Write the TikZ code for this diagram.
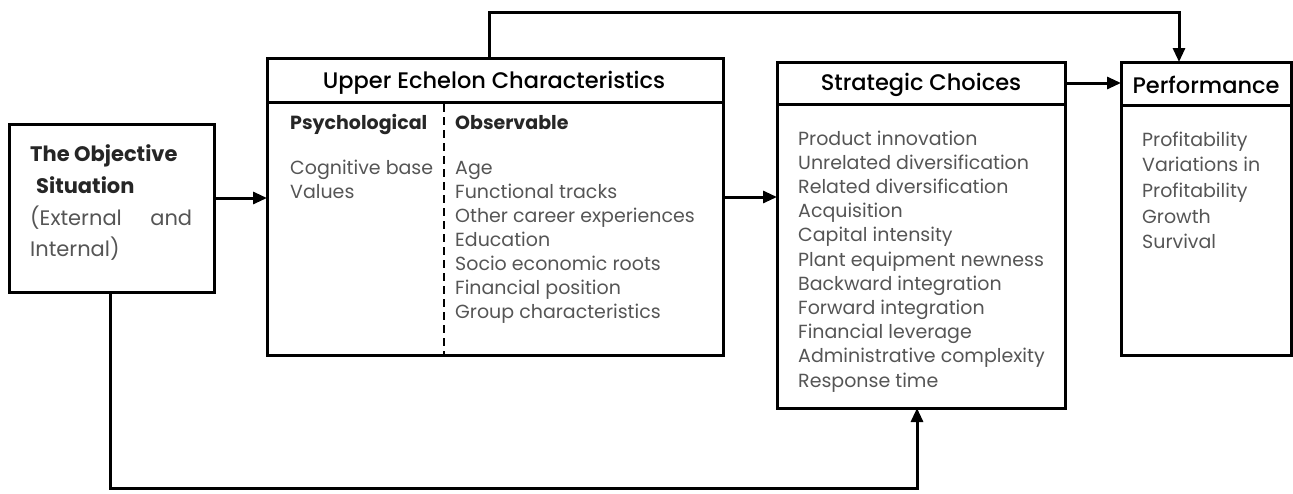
\documentclass[tikz,border=0pt]{standalone}
\usepackage{fontspec}
\setmainfont{Poppins}
\newfontfamily\medfont{Poppins Medium}
\usetikzlibrary{arrows.meta}
\definecolor{itemgray}{HTML}{555555}
\begin{document}
\begin{tikzpicture}[x=1pt,y=-1pt,
  box/.style={draw, line width=3pt, inner sep=0pt, outer sep=0pt},
  rule/.style={line width=3pt},
  conn/.style={line width=3pt, -{Triangle[length=14pt,width=12pt]}},
  head/.style={inner sep=0pt, font=\medfont\fontsize{22.5}{26}\selectfont, text=black},
  sub/.style={inner sep=0pt, anchor=base west, font=\bfseries\fontsize{19}{22}\selectfont, text=black!85},
  item/.style={inner sep=0pt, anchor=base west, font=\fontsize{19}{22}\selectfont, text=itemgray}]
\useasboundingbox (0,0) rectangle (1293,493);

% boxes
\node[box, minimum width=205pt, minimum height=168pt] (obj) at (111.5,208) {};
\node[box, minimum width=456pt, minimum height=297pt] (ue) at (495,206.5) {};
\node[box, minimum width=288pt, minimum height=346pt] (sc) at (921,235) {};
\node[box, minimum width=170pt, minimum height=293pt] (perf) at (1206,208.5) {};

% header rules
\draw[rule] (ue.west |- 0,102) -- (ue.east |- 0,102);
\draw[rule] (sc.west |- 0,104) -- (sc.east |- 0,104);
\draw[rule] (perf.west |- 0,105) -- (perf.east |- 0,105);
\draw[line width=2.4pt, dash pattern=on 8pt off 5pt] (444,104) -- (444,354);

% headers
\node[head] (ueh) at (494,83) {Upper Echelon Characteristics};
\node[head] (sch) at (921,85) {Strategic Choices};
\node[head] (perfh) at (1206,85) {Performance};

% objective situation
\node[sub, font=\bfseries\fontsize{21}{24}\selectfont] (o1) at (30,161) {The Objective};
\node[sub, font=\bfseries\fontsize{21}{24}\selectfont] (o2) at (36,193) {Situation};
\node[item, font=\fontsize{21}{24}\selectfont] (o3) at (30,225) {\hbox to 162pt{(External\hfill and}};
\node[item, font=\fontsize{21}{24}\selectfont] (o4) at (30,256) {Internal)};

% upper echelon contents
\node[sub] (psy) at (290,129) {Psychological};
\node[sub] (obs) at (455,129) {Observable};
\node[item] (cog) at (290,174) {Cognitive base};
\node[item] (val) at (290,198) {Values};
\foreach \t [count=\i] in {Age, Functional tracks, Other career experiences, Education, Socio economic roots, Financial position, Group characteristics}
  \node[item] (obs\i) at (455,{174+24*(\i-1)}) {\t};

% strategic choices contents
\foreach \t [count=\i] in {Product innovation, Unrelated diversification, Related diversification, Acquisition, Capital intensity, Plant equipment newness, Backward integration, Forward integration, Financial leverage, Administrative complexity, Response time}
  \node[item] (sc\i) at (798,{145+24.2*(\i-1)}) {\t};

% performance contents
\foreach \t [count=\i] in {Profitability, Variations in, Profitability, Growth, Survival}
  \node[item] (pf\i) at (1142,{146+25.7*(\i-1)}) {\t};

% connectors
\draw[conn] (obj.east |- 0,198) -- (ue.west |- 0,198);
\draw[conn] (ue.east |- 0,197) -- (sc.west |- 0,197);
\draw[conn] (sc.east |- 0,83) -- (perf.west |- 0,83);
\coordinate (topL) at (489,12);
\coordinate (botL) at (110,488);
\draw[conn] (ue.north -| topL) -- (topL) -| (perf.north -| 1179,0);
\draw[conn] (obj.south -| botL) -- (botL) -| (sc.south -| 917,0);
\end{tikzpicture}
\end{document}
